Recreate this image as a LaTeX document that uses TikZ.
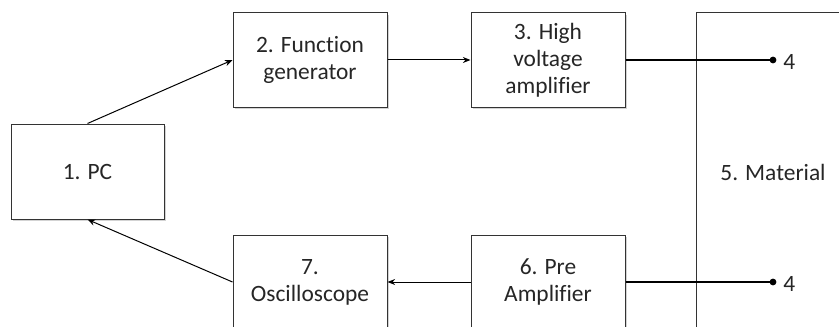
\documentclass[tikz,border=0pt]{standalone}
\usepackage{fontspec}
\setmainfont{Carlito}[Ligatures=NoCommon]
\usetikzlibrary{arrows.meta,shadows}
\tikzset{
  blk/.style={draw=black!80, rectangle, fill=white, line width=0.5pt, align=center,
    minimum width=77pt, minimum height=47pt, inner sep=1pt,
    drop shadow={shadow xshift=0.8pt, shadow yshift=-0.8pt, opacity=0.35}},
  term/.style={circle, fill=black, inner sep=0pt, minimum size=3.4pt}
}
\begin{document}
\begin{tikzpicture}[x=0.5pt,y=-0.5pt, font=\fontsize{11.7}{13.6}\selectfont, text=black!85, >={Stealth[length=3.8pt,width=3pt]}]
\useasboundingbox (0,0) rectangle (839,326);
\clip (0,0) rectangle (839,326);
\node[blk, minimum width=76.5pt, minimum height=47.5pt] (pc) at (87.5,171.5) {1. PC};
\node[blk] (fg) at (310,60) {2. Function\\generator};
\node[blk] (hv) at (548,60) {3. High\\voltage\\amplifier};
\node[draw=black!80, line width=0.5pt, rectangle, minimum width=77pt, minimum height=159pt] (mat) at (773,172) {5. Material};
\node[blk] (osc) at (310,282) {7.\\Oscilloscope};
\node[blk] (pre) at (548,282) {6. Pre\\Amplifier};
\node[term] (t1) at (773,60) {};
\node[term] (t2) at (773,282) {};
\node[anchor=west, inner sep=0pt] (l1) at (783,62) {4};
\node[anchor=west, inner sep=0pt] (l2) at (783,284) {4};
\draw[->, line width=0.5pt] (pc.north) -- (fg.west);
\draw[->, line width=0.5pt] (fg) -- (hv);
\draw[->, line width=0.5pt] (pre) -- (osc);
\draw[->, line width=0.5pt] (osc.west) -- (pc.south);
\draw[line width=1.1pt] (hv.east) -- (t1.center);
\draw[line width=1.1pt] (pre.east) -- (t2.center);
\end{tikzpicture}
\end{document}
